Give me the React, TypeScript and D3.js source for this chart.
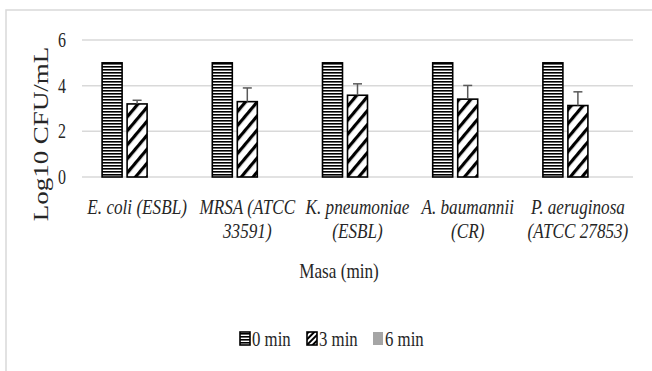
import React from "react";
import * as d3 from "d3";

const categories = [
  ["E. coli (ESBL)"],
  ["MRSA (ATCC", "33591)"],
  ["K. pneumoniae", "(ESBL)"],
  ["A. baumannii", "(CR)"],
  ["P. aeruginosa", "(ATCC 27853)"],
];
const series = ["0 min", "3 min", "6 min"];
const values0 = [5, 5, 5, 5, 5];
const values3 = [3.2, 3.3, 3.58, 3.41, 3.13];
const errors3 = [0.16, 0.6, 0.5, 0.6, 0.6];
const values6 = [0, 0, 0, 0, 0];
const yTicks = [0, 2, 4, 6];

const W = 652;
const H = 371;
const FONT = "'Liberation Serif', 'Times New Roman', serif";
const SX = 0.78;
const TXT = "#262626";

export default function App() {
  const plotL = 82, plotR = 633;
  const y = d3.scaleLinear().domain([0, 6]).range([177, 40]);
  const x0 = d3.scaleBand<number>().domain(d3.range(categories.length)).range([plotL, plotR]);
  const groupW = 70;
  const x1 = d3.scaleBand<string>().domain(series).range([0, groupW]).paddingInner(0.2);
  const off = (x0.bandwidth() - groupW) / 2;
  const allVals = [values0, values3, values6];

  return (
    <svg width={W} height={H} style={{ position: "absolute", left: 0, top: 0, background: "#fff" }}>
      <defs>
        <pattern id="horiz" width="4" height="3" patternUnits="userSpaceOnUse">
          <rect width="4" height="3" fill="#fff" />
          <rect width="4" height="1.6" fill="#000" />
        </pattern>
        <pattern id="diag" width="9" height="9" patternUnits="userSpaceOnUse" patternTransform="rotate(40)">
          <rect width="9" height="9" fill="#fff" />
          <rect width="3.2" height="9" fill="#000" />
        </pattern>
        <pattern id="diagS" width="4" height="4" patternUnits="userSpaceOnUse" patternTransform="rotate(45)">
          <rect width="4" height="4" fill="#fff" />
          <rect width="2" height="4" fill="#000" />
        </pattern>
      </defs>
      <rect x={0} y={0} width={W} height={H} fill="#fff" />
      <rect x={6} y={10} width={W + 20} height={H + 20} fill="none" stroke="#d9d9d9" strokeWidth={1.5} />
      {yTicks.map((t) => (
        <g key={t}>
          <line x1={plotL} x2={plotR} y1={y(t)} y2={y(t)} stroke="#d9d9d9" strokeWidth={1.5} />
          <text
            transform={`translate(66,${y(t) + 7}) scale(0.76,1)`}
            textAnchor="end"
            fontFamily={FONT}
            fontSize={21}
            fill={TXT}
          >
            {t}
          </text>
        </g>
      ))}
      {categories.map((c, i) => (
        <g key={i}>
          {allVals.map((vals, s) => {
            const v = vals[i];
            if (!v) return null;
            const bx = (x0(i) as number) + off + (x1(series[s]) as number);
            const fill = s === 0 ? "url(#horiz)" : s === 1 ? "url(#diag)" : "#a5a5a5";
            return (
              <rect
                key={s}
                x={bx}
                y={y(v)}
                width={x1.bandwidth()}
                height={y(0) - y(v)}
                fill={fill}
                stroke="#000"
                strokeWidth={1.6}
              />
            );
          })}
          {(() => {
            const cx = (x0(i) as number) + off + (x1(series[1]) as number) + x1.bandwidth() / 2;
            const top = y(values3[i] + errors3[i]);
            return (
              <g stroke="#595959" strokeWidth={1.5}>
                <line x1={cx} x2={cx} y1={y(values3[i])} y2={top} />
                <line x1={cx - 4.5} x2={cx + 4.5} y1={top} y2={top} />
              </g>
            );
          })()}
          {c.map((line, li) => (
            <text
              key={li}
              transform={`translate(${(x0(i) as number) + x0.bandwidth() / 2},${214 + li * 24}) scale(${SX},1)`}
              textAnchor="middle"
              fontFamily={FONT}
              fontStyle="italic"
              fontSize={22}
              fill={TXT}
            >
              {line}
            </text>
          ))}
        </g>
      ))}
      <text
        transform={`translate(339,278) scale(0.78,1)`}
        textAnchor="middle"
        fontFamily={FONT}
        fontSize={22}
        fill={TXT}
      >
        Masa (min)
      </text>
      <text
        transform={`translate(48,134) scale(0.78,1) rotate(-90)`}
        textAnchor="middle"
        fontFamily={FONT}
        fontSize={27}
        fill={TXT}
      >
        Log10 CFU/mL
      </text>
      {series.map((s, k) => {
        const lx = [240, 307, 373][k];
        const fill = k === 0 ? "url(#horiz)" : k === 1 ? "url(#diagS)" : "#a5a5a5";
        return (
          <g key={s}>
            <rect x={lx} y={332} width={10} height={13} fill={fill} stroke={k === 2 ? "none" : "#000"} strokeWidth={1.6} />
            <text
              transform={`translate(${lx + 12},346) scale(0.8,1)`}
              fontFamily={FONT}
              fontSize={21}
              fill={TXT}
            >
              {s}
            </text>
          </g>
        );
      })}
    </svg>
  );
}
